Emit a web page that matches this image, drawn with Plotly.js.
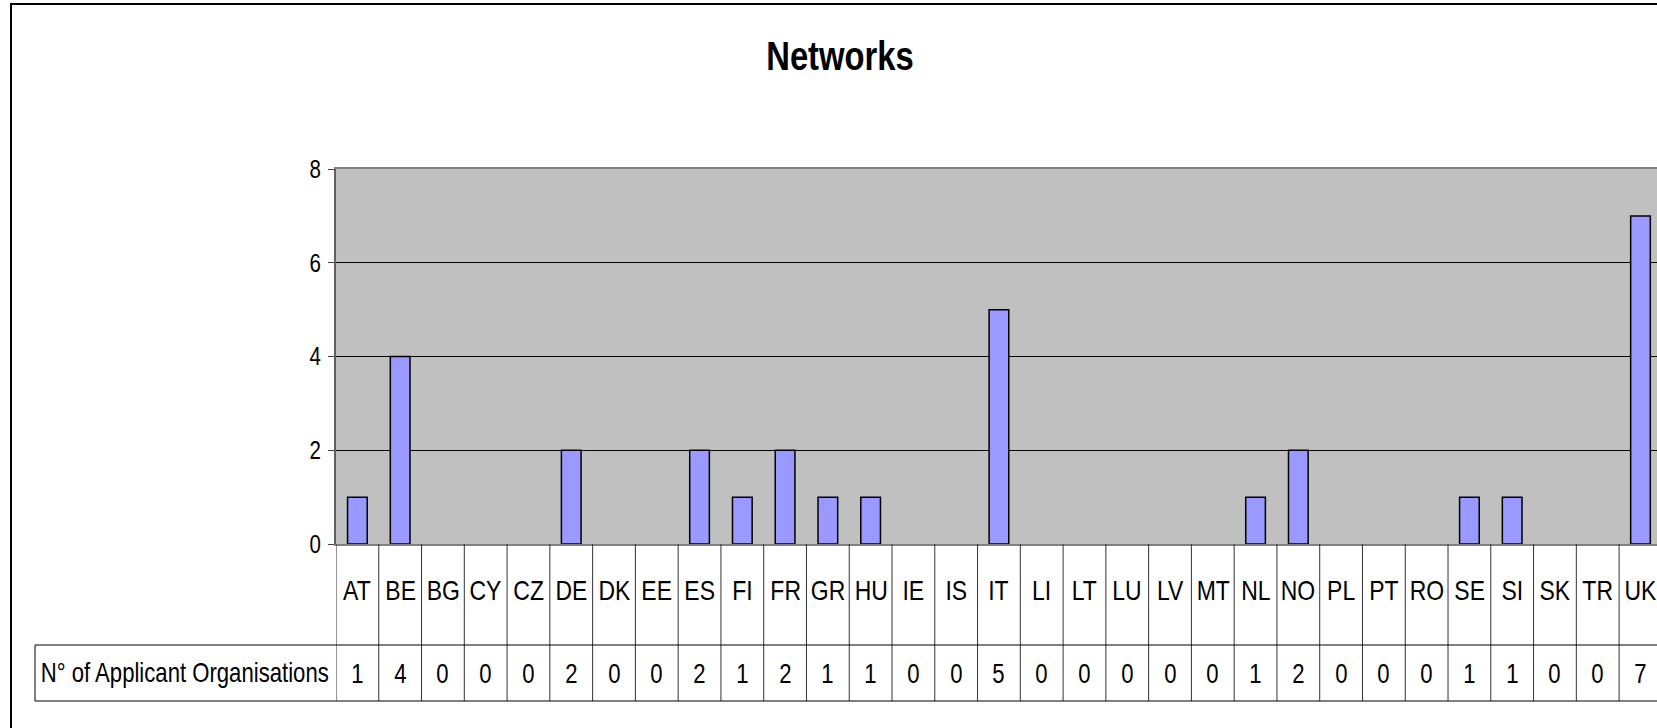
<!DOCTYPE html>
<html>
<head>
<meta charset="utf-8">
<script src="https://cdn.plot.ly/plotly-3.0.1.min.js"></script>
<style>
html,body{margin:0;padding:0;background:#fff;overflow:hidden;}
#chart{width:1657px;height:728px;}
</style>
</head>
<body>
<div id="chart"></div>
<script>
// ---- data ----
const chartTitle = "Networks";
const countries = ["AT","BE","BG","CY","CZ","DE","DK","EE","ES","FI","FR","GR","HU","IE","IS","IT","LI","LT","LU","LV","MT","NL","NO","PL","PT","RO","SE","SI","SK","TR","UK"];
const applicants = [1,4,0,0,0,2,0,0,2,1,2,1,1,0,0,5,0,0,0,0,0,1,2,0,0,0,1,1,0,0,7];
const seriesName = "N° of Applicant Organisations";
const yTicks = [0,2,4,6,8];

// ---- layout geometry (pixels) ----
const W = 1657, H = 728;
const plotL = 336, plotT = 169, plotB = 544;
const colW = 42.77;
const plotW = W - plotL, plotH = plotB - plotT;
const px2x = p => (p - plotL) / plotW;   // pixel x -> paper x
const py2y = p => (plotB - p) / plotH;   // pixel y -> paper y
const FONT = "'Liberation Sans', Arial, sans-serif";
const NARROW = 0.82; // horizontal compression to mimic Arial Narrow
const nCat = countries.length;

const shapes = [];
const annotations = [];

// outer chart border
shapes.push({type:'rect', xref:'paper', yref:'paper',
  x0:px2x(11), x1:px2x(W+20), y0:py2y(4), y1:py2y(H+20),
  line:{color:'#000', width:2}, layer:'above'});

// data table: vertical separators per category
for (let i = 0; i <= nCat; i++) {
  shapes.push({type:'line', xref:'x', yref:'paper', x0:i-0.5, x1:i-0.5,
    y0:0, y1:py2y(701), line:{color:'#333', width:1}});
}
shapes.push({type:'line', xref:'paper', yref:'paper', x0:px2x(35), x1:px2x(W+20),
  y0:py2y(645), y1:py2y(645), line:{color:'#000', width:1}});
shapes.push({type:'line', xref:'paper', yref:'paper', x0:px2x(35), x1:px2x(W+20),
  y0:py2y(701), y1:py2y(701), line:{color:'#000', width:1}});
shapes.push({type:'line', xref:'paper', yref:'paper', x0:px2x(35), x1:px2x(35),
  y0:py2y(645), y1:py2y(701), line:{color:'#000', width:1}});

countries.forEach((c, i) => {
  annotations.push({x:c, xref:'x', y:py2y(590), yref:'paper', text:c, showarrow:false,
    xanchor:'center', yanchor:'middle', font:{family:FONT, size:28, color:'#000'}});
  annotations.push({x:c, xref:'x', y:py2y(674), yref:'paper', text:String(applicants[i]), showarrow:false,
    xanchor:'center', yanchor:'middle', font:{family:FONT, size:27, color:'#000'}});
});
annotations.push({x:px2x(185), xref:'paper', y:py2y(673), yref:'paper', text:seriesName,
  showarrow:false, xanchor:'center', yanchor:'middle', font:{family:FONT, size:27, color:'#000'}});

const trace = {
  type:'bar', x:countries, y:applicants, width:0.46, name:seriesName,
  marker:{color:'#9999FF', line:{color:'#000', width:applicants.map(v => v > 0 ? 1.5 : 0)}},
  hoverinfo:'x+y'
};

const layout = {
  width:W, height:H,
  margin:{l:plotL, r:0, t:plotT, b:H-plotB, pad:0},
  paper_bgcolor:'#fff', plot_bgcolor:'#C0C0C0',
  showlegend:false,
  title:{text:'<b>'+chartTitle+'</b>', x:840/W, xref:'container', xanchor:'center',
    y:1-56/H, yref:'container', yanchor:'middle',
    font:{family:FONT, size:40, color:'#000'}},
  xaxis:{type:'category', range:[-0.5, -0.5 + plotW/colW], showticklabels:false,
    showgrid:false, zeroline:false, showline:true, linecolor:'#808080', linewidth:2,
    mirror:true, ticks:'', fixedrange:true},
  yaxis:{range:[0,8], tickvals:yTicks, ticktext:yTicks.map(String), showgrid:true,
    gridcolor:'#000', gridwidth:1, zeroline:false, showline:true, linecolor:'#606060',
    linewidth:2, ticks:'outside', ticklen:6, tickcolor:'#404040', tickwidth:1,
    ticklabelstandoff:2,
    tickfont:{family:FONT, size:25, color:'#000'}, fixedrange:true},
  shapes:shapes,
  annotations:annotations
};

function narrowText(gd) {
  gd.querySelectorAll('svg text').forEach(el => {
    if (!el.textContent) return;
    const bb = el.getBBox();
    const anchor = el.getAttribute('text-anchor') || 'start';
    let ax = bb.x + bb.width / 2;
    if (anchor === 'end') ax = bb.x + bb.width;
    else if (anchor === 'start') ax = bb.x;
    const prev = el.getAttribute('transform') || '';
    el.setAttribute('transform', prev + ' translate(' + ax + ',0) scale(' + NARROW + ',1) translate(' + (-ax) + ',0)');
  });
}

Plotly.newPlot('chart', [trace], layout, {displayModeBar:false, staticPlot:true})
  .then(gd => narrowText(gd));
</script>
</body>
</html>
